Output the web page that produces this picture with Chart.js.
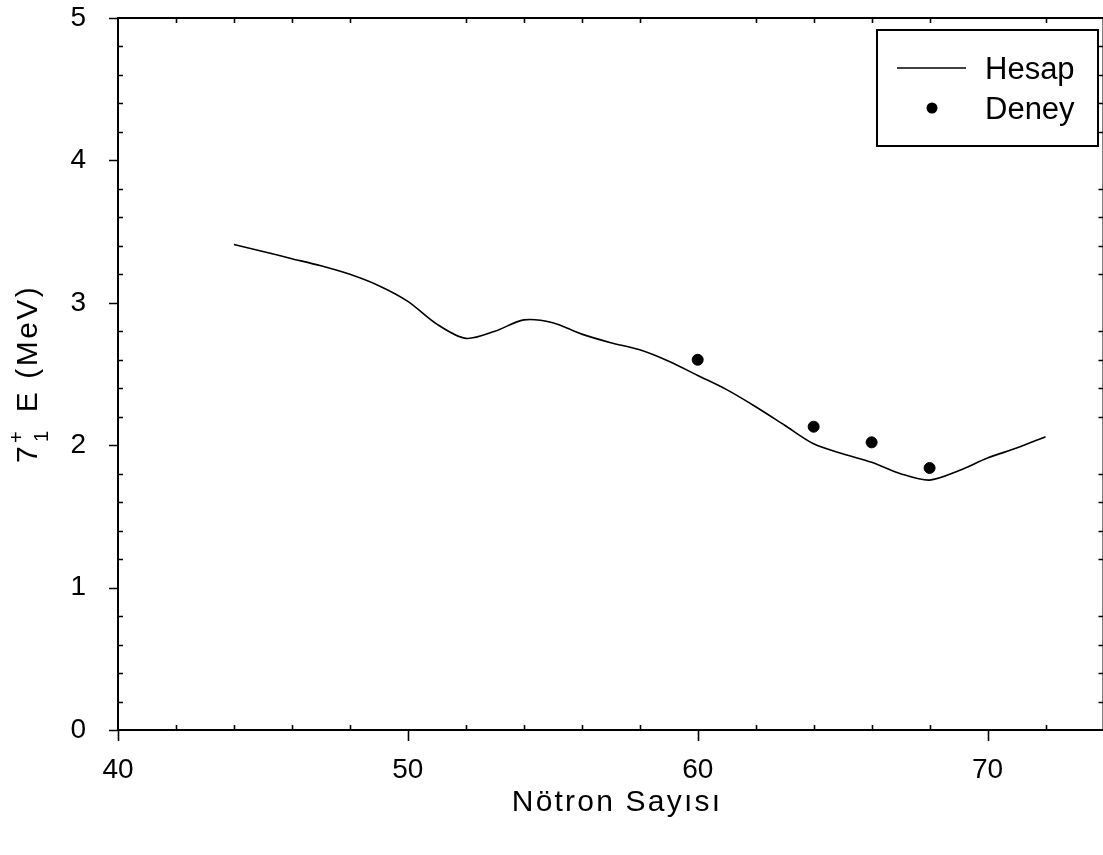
<!DOCTYPE html>
<html>
<head>
<meta charset="utf-8">
<script src="https://cdn.jsdelivr.net/npm/chart.js@4.4.1/dist/chart.umd.min.js"></script>
<style>
  html, body { margin: 0; padding: 0; background: #ffffff; overflow: hidden; width: 1103px; height: 855px; }
  #wrap { position: absolute; left: 0; top: 0; width: 1110px; height: 855px; }
</style>
</head>
<body>
<div id="wrap"><canvas id="c" width="1110" height="855"></canvas></div>
<script>
// ---- data ----
const calcNeutrons = [44, 45, 46, 47, 48, 49, 50, 51, 52, 53, 54, 55, 56, 57, 58, 59, 60, 61, 62, 63, 64, 65, 66, 67, 68, 69, 70, 71, 72];
const calcEnergy   = [3.41, 3.36, 3.31, 3.26, 3.20, 3.12, 3.01, 2.85, 2.75, 2.80, 2.88, 2.86, 2.78, 2.72, 2.67, 2.59, 2.49, 2.39, 2.27, 2.14, 2.01, 1.94, 1.88, 1.80, 1.755, 1.82, 1.91, 1.98, 2.06];
const expNeutrons  = [60, 64, 66, 68];
const expEnergy    = [2.60, 2.13, 2.02, 1.84];
const xTickLabels  = [40, 50, 60, 70];
const yTickLabels  = [0, 1, 2, 3, 4, 5];
const seriesNames  = ['Hesap', 'Deney'];
const xTitle = 'Nötron Sayısı';

const FONT = '"Liberation Sans", Arial, sans-serif';

const framePlugin = {
  id: 'frame',
  afterDatasetsDraw(chart) {
    const ctx = chart.ctx;
    const { left, right, top, bottom } = chart.chartArea;
    const xs = chart.scales.x, ys = chart.scales.y;
    ctx.save();
    ctx.strokeStyle = '#000';
    ctx.lineWidth = 2;
    ctx.strokeRect(left, top, right - left, bottom - top);
    ctx.lineWidth = 1.6;
    ctx.beginPath();
    // x ticks
    for (let v = xs.min; v <= xs.max + 1e-9; v += 2) {
      const px = Math.round(xs.getPixelForValue(v)) + 0.5;
      if (v % 10 === 0) {
        ctx.moveTo(px, bottom); ctx.lineTo(px, bottom + 11);
      } else {
        ctx.moveTo(px, bottom); ctx.lineTo(px, bottom - 5);
        ctx.moveTo(px, top); ctx.lineTo(px, top + 5);
      }
    }
    // y ticks
    for (let i = 0; i <= 25; i++) {
      const v = ys.min + i * 0.2;
      const py = Math.round(ys.getPixelForValue(v)) + 0.5;
      if (i % 5 === 0) {
        ctx.moveTo(left - 9, py); ctx.lineTo(left, py);
      } else {
        ctx.moveTo(left, py); ctx.lineTo(left + 5, py);
        ctx.moveTo(right, py); ctx.lineTo(right - 5, py);
      }
    }
    ctx.stroke();

    // legend box
    const lx = 877, ly = 30, lw = 221, lh = 116;
    ctx.fillStyle = '#fff';
    ctx.fillRect(lx, ly, lw, lh);
    ctx.lineWidth = 2;
    ctx.strokeRect(lx, ly, lw, lh);
    ctx.lineWidth = 1.5;
    ctx.beginPath();
    ctx.moveTo(897, 68); ctx.lineTo(966, 68);
    ctx.stroke();
    ctx.fillStyle = '#000';
    ctx.beginPath();
    ctx.arc(932, 108, 5.5, 0, Math.PI * 2);
    ctx.fill();
    ctx.font = '31px ' + FONT;
    ctx.textBaseline = 'alphabetic';
    ctx.textAlign = 'left';
    ctx.fillText(chart.data.datasets[0].label, 985, 79);
    ctx.fillText(chart.data.datasets[1].label, 985, 119);

    // x axis title
    ctx.save();
    ctx.font = '30px ' + FONT;
    ctx.letterSpacing = '2.2px';
    ctx.textAlign = 'center';
    ctx.textBaseline = 'middle';
    ctx.fillText(xTitle, 617, 803);
    ctx.restore();

    // y axis title (rotated, with stacked sub/superscript)
    ctx.translate(37, 463);
    ctx.rotate(-Math.PI / 2);
    ctx.textAlign = 'left';
    ctx.font = '30px ' + FONT;
    ctx.fillText('7', 0, 0);
    ctx.font = '20px ' + FONT;
    ctx.fillText('1', 21, 11);
    ctx.fillText('+', 20, -14);
    ctx.font = '30px ' + FONT;
    ctx.letterSpacing = '2.5px';
    ctx.fillText(' E (MeV)', 40, 0);
    ctx.restore();
  }
};

function zeroPad(s) { s.paddingLeft = 0; s.paddingRight = 0; s.paddingTop = 0; s.paddingBottom = 0; }

new Chart(document.getElementById('c'), {
  type: 'scatter',
  data: {
    datasets: [
      {
        label: seriesNames[0],
        type: 'line',
        data: calcNeutrons.map((x, i) => ({ x: x, y: calcEnergy[i] })),
        borderColor: '#000',
        borderWidth: 1.6,
        pointRadius: 0,
        fill: false,
        tension: 0.3
      },
      {
        label: seriesNames[1],
        data: expNeutrons.map((x, i) => ({ x: x, y: expEnergy[i] })),
        backgroundColor: '#000',
        borderColor: '#000',
        pointRadius: 5.5,
        pointStyle: 'circle'
      }
    ]
  },
  options: {
    responsive: false,
    animation: false,
    devicePixelRatio: 1,
    layout: { padding: { left: 0, right: 5, top: 18, bottom: 0 } },
    plugins: { legend: { display: false }, tooltip: { enabled: false } },
    scales: {
      x: {
        type: 'linear',
        min: 40, max: 74,
        grid: { display: false },
        border: { display: false },
        afterBuildTicks: s => { s.ticks = xTickLabels.map(v => ({ value: v })); },
        afterFit: s => { s.height = 125; zeroPad(s); },
        ticks: { color: '#000', font: { family: FONT, size: 28 }, padding: 15, maxRotation: 0, autoSkip: false },
        title: { display: false, text: xTitle }
      },
      y: {
        type: 'linear',
        min: 0, max: 5,
        grid: { display: false },
        border: { display: false },
        afterBuildTicks: s => { s.ticks = yTickLabels.map(v => ({ value: v })); },
        afterFit: s => { s.width = 118; zeroPad(s); },
        ticks: { color: '#000', font: { family: FONT, size: 28 }, padding: 24 }
      }
    }
  },
  plugins: [framePlugin]
});
</script>
</body>
</html>
